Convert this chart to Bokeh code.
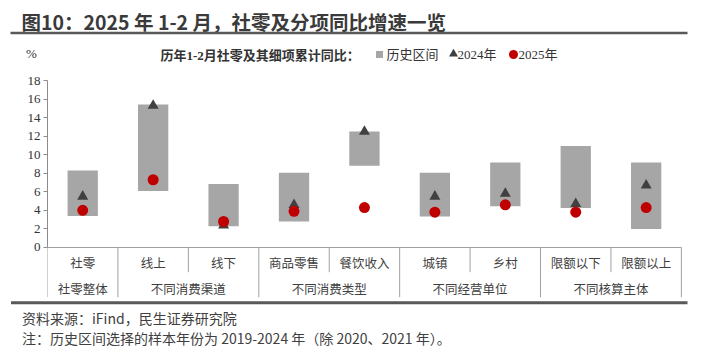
from bokeh.plotting import figure
from bokeh.layouts import column
from bokeh.models import Range1d, FixedTicker, ColumnDataSource
from bokeh.core.properties import value
from bokeh.embed import file_html
from bokeh.resources import INLINE

# ---------------- data ----------------
categories = ["社零", "线上", "线下", "商品零售", "餐饮收入", "城镇", "乡村", "限额以下", "限额以上"]
group_names = ["社零整体", "不同消费渠道", "不同消费类型", "不同经营单位", "不同核算主体"]
group_sizes = [1, 2, 2, 2, 2]
hist_low = [3.4, 6.1, 2.3, 2.8, 8.8, 3.35, 4.45, 4.25, 2.0]
hist_high = [8.3, 15.4, 6.85, 8.05, 12.5, 8.05, 9.15, 10.95, 9.15]
yoy_2024 = [5.5, 15.3, 2.4, 4.6, 12.5, 5.5, 5.8, 4.7, 6.7]
yoy_2025 = [4.0, 7.3, 2.8, 3.9, 4.3, 3.8, 4.6, 3.8, 4.3]
y_ticks = [0, 2, 4, 6, 8, 10, 12, 14, 16, 18]

title_text = "图10：2025 年 1-2 月，社零及分项同比增速一览"
legend_title = "历年1-2月社零及其细项累计同比："
legend_labels = ["历史区间", "2024年", "2025年"]
source_text = "资料来源：iFind，民生证券研究院"
note_text = "注：历史区间选择的样本年份为 2019-2024 年（除 2020、2021 年）。"

SERIF = "Liberation Serif, Noto Sans CJK SC"
SANS = "Noto Sans CJK SC"
BAR_COL = "#a6a6a6"
TRI_COL = "#404040"
DOT_COL = "#c00000"
RULE_COL = "#595959"

W = 705
TOP_H = 62          # page rows 0..62
MID_TOP = 62
MID_H = 238         # page rows 62..300
BOT_H = 58          # page rows 300..358


def no_align(f):
    try:
        f.frame_align = False
    except Exception:
        pass


def blank(height, y_top, y_bottom):
    f = figure(width=W, height=height, output_backend="svg", toolbar_location=None,
               x_range=Range1d(0, W), y_range=Range1d(y_bottom, y_top),
               x_axis_location=None, y_axis_location=None, min_border=0)
    f.outline_line_color = None
    f.grid.visible = False
    no_align(f)
    return f


# ---------------- header: title, rule, legend ----------------
top = blank(TOP_H, 0, TOP_H)
top.text(x=[21], y=[20.5], text=[title_text], text_font=value(SANS),
         text_font_size="19.5px", text_font_style="bold", text_color="#3a3a3a",
         text_baseline="middle", text_align="left")
top.segment(x0=[10], y0=[32.5], x1=[687], y1=[32.5], line_color=RULE_COL, line_width=2.5)
top.text(x=[31], y=[53], text=["%"], text_font=value("Liberation Serif"),
         text_font_size="13px", text_color="#333333", text_baseline="middle",
         text_align="center")
top.text(x=[160], y=[54.5], text=[legend_title], text_font=value(SERIF),
         text_font_size="13px", text_font_style="bold", text_color="#333333",
         text_baseline="middle", text_align="left")
top.scatter(x=[379], y=[54], marker="square", size=7, fill_color=BAR_COL, line_color=None)
top.scatter(x=[453], y=[53.5], marker="triangle", size=9, fill_color=TRI_COL, line_color=None)
top.scatter(x=[513], y=[54], marker="circle", size=9, fill_color=DOT_COL, line_color=None)
top.text(x=[386, 457, 518], y=[54, 54, 54], text=legend_labels, text_font=value(SERIF),
         text_font_size="13px", text_color="#333333", text_baseline="middle",
         text_align="left")

# ---------------- main chart ----------------
ML, MT, MB = 47, 18, 2
X0, X1 = 0.0, 9.03
Y0, Y1 = -5.5, 18.0
FRAME_W = 636
MR = W - ML - FRAME_W
UY = (MID_H - MT - MB) / (Y1 - Y0)


def dy(py):
    return Y1 - (py - MID_TOP - MT) / UY


p = figure(width=W, height=MID_H, output_backend="svg", toolbar_location=None,
           x_range=Range1d(X0, X1), y_range=Range1d(Y0, Y1),
           x_axis_location=None, min_border_left=ML, min_border_right=MR,
           min_border_top=MT, min_border_bottom=MB)
p.outline_line_color = None
p.grid.visible = False
no_align(p)

ax = p.yaxis[0]
ax.bounds = (0, 18)
ax.ticker = FixedTicker(ticks=y_ticks)
ax.axis_line_color = "#8c8c8c"
ax.major_tick_line_color = "#8c8c8c"
ax.major_tick_out = 4
ax.major_tick_in = 0
ax.minor_tick_out = 0
ax.minor_tick_in = 0
ax.major_label_text_font = "Liberation Serif"
ax.major_label_text_font_size = "13px"
ax.major_label_text_color = "#333333"
ax.major_label_standoff = 3

n = len(categories)
xc = [i + 0.5 for i in range(n)]
src = ColumnDataSource(dict(x=xc, cat=categories, lo=hist_low, hi=hist_high,
                            y24=yoy_2024, y25=yoy_2025))

p.vbar(x="x", bottom="lo", top="hi", width=0.43, source=src,
       fill_color=BAR_COL, line_color=None)
p.scatter(x="x", y="y24", marker="triangle", size=11, source=src,
          fill_color=TRI_COL, line_color=None)
p.scatter(x="x", y="y25", marker="circle", size=11, source=src,
          fill_color=DOT_COL, line_color=None)

# category table under the axis
row1 = dy(263.5)
row2 = dy(289.0)
short_end = dy(271.7)
full_end = dy(296.7)
line_col = "#a0a0a0"

p.segment(x0=[0], y0=[0], x1=[n], y1=[0], line_color=line_col, line_width=1)
bounds = [0]
for s in group_sizes:
    bounds.append(bounds[-1] + s)
inner = [i for i in range(1, n) if i not in bounds]
p.segment(x0=bounds, y0=[0] * len(bounds), x1=bounds, y1=[full_end] * len(bounds),
          line_color=line_col, line_width=1)
p.segment(x0=inner, y0=[0] * len(inner), x1=inner, y1=[short_end] * len(inner),
          line_color=line_col, line_width=1)

p.text(x=xc, y=[row1] * n, text=categories, text_font=value(SERIF),
       text_font_size="12.5px", text_color="#404040", text_align="center",
       text_baseline="middle")
gx = [(bounds[i] + bounds[i + 1]) / 2 for i in range(len(group_names))]
p.text(x=gx, y=[row2] * len(gx), text=group_names, text_font=value(SERIF),
       text_font_size="12.5px", text_color="#404040", text_align="center",
       text_baseline="middle")

# ---------------- footer ----------------
BOT_TOP = MID_TOP + MID_H
bot = blank(BOT_H, BOT_TOP, BOT_TOP + BOT_H)
bot.segment(x0=[10.5], y0=[302.3], x1=[687], y1=[302.3], line_color=RULE_COL, line_width=3)
bot.text(x=[21.5, 21.5], y=[317.5, 337.5], text=[source_text, note_text],
         text_font=value(SANS), text_font_size="14px", text_color="#404040",
         text_baseline="middle", text_align="left")

layout = column(top, p, bot, spacing=0)
open("out.html", "w").write(file_html(layout, INLINE))
